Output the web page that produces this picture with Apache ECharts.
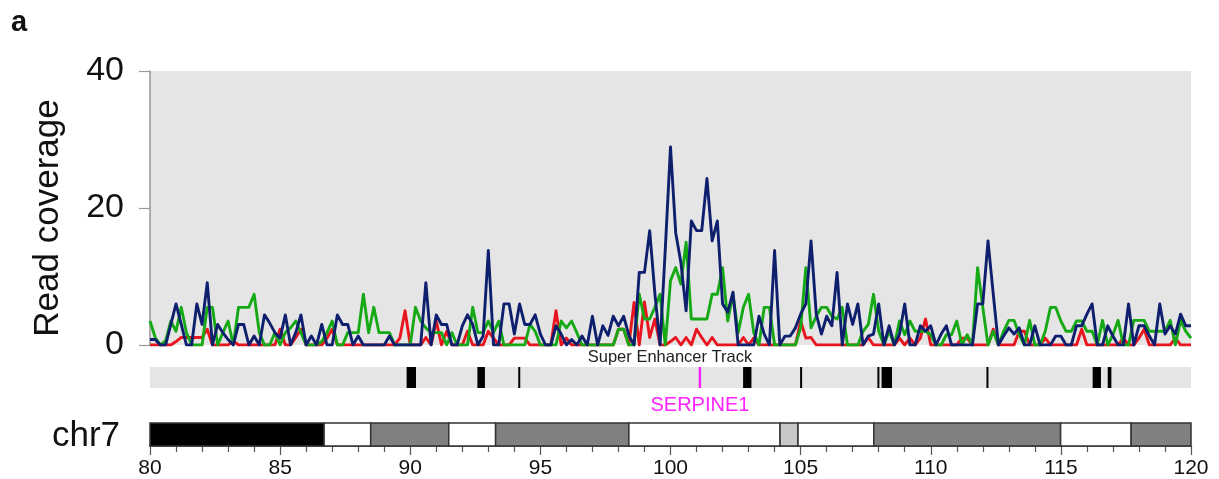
<!DOCTYPE html>
<html><head><meta charset="utf-8">
<script src="https://cdn.jsdelivr.net/npm/echarts@6/dist/echarts.min.js"></script>
<style>html,body{margin:0;padding:0;background:#fff}#c{width:1219px;height:479px}</style>
</head><body><div id="c"></div>
<script>
// ---- data ----
const binStart = 80;      // Mb
const binSize = 0.2;      // Mb per bin
const xTicks = [80, 85, 90, 95, 100, 105, 110, 115, 120];
const yTicks = [0, 20, 40];

const redCov = [
 0,0,0,0,0,0.5,1.1,1.1,1.1,1.1,
 1.1,2.3,0,0,0,0,0.6,0,0,0,
 0,0,0,0,0,2.3,0,0,1.1,2.3,
 0,0,0,0,1,2.3,0,0,0,0,
 0,0,0,0,0,0,0,0,1,5,
 0,0,0,1.1,0,3.5,0,2,0,0,
 0,2,0,0,0,2,1,0,0,0,
 1,1,1,0,0,0,0,0,5,0,
 1,0,0,0,0,0,0,0,0,0,
 2.3,2.3,0,6.2,0,6.3,1.1,3.8,0,0,
 0.5,1.1,0,1.1,0,2.3,1.1,0,1.1,0,
 0,0,0,0,1.1,0,1,0,0,0,
 0,0,0,0,0,3.5,1,1.1,0,0,
 0,0,0,0,0,0,0,0,1.1,0,
 0,0,0,0,1,0,1,0,1,3.8,
 0,0,0,0,0,0,1,1,0,0,
 0,0,2.3,0,0,0,0,2,2,0,
 0,0,1,0,0,0,0,0,0,2.3,
 0,0,0,0,0,0,0,1,0,0,
 1,2.3,0,0,0,0,0,1,0,0,
 0
];
const greenCov = [
 3.5,1.1,0,0.6,3.5,2,5.5,1.8,0,0,
 0,5.5,5.5,0,1.8,3.5,0,5.5,5.5,5.5,
 7.4,1.8,0,0,1.8,0,1.8,2.5,3.5,1.8,
 0,0,0,0.5,1.8,3.5,0,0,1.8,1.8,
 1.8,7.4,1.8,5.5,1.8,1.8,1.8,0,0,0,
 0,5.5,3.5,2.5,1.8,1.8,1.8,0,1.8,0,
 0,0,5.5,1.8,1.8,3.5,1.8,3.5,0,0,
 0,0,0,3,2,0,0,0,0,3.5,
 2.5,3.5,1.8,0,0,0,0,0,0,0,
 2.3,2.3,0,0,7.4,3.8,3.8,5.5,7.4,0,
 9.4,11.3,8.9,15,3.8,3.8,3.8,3.8,7.4,7.4,
 11.3,3.5,7.4,1.8,5.5,7.4,1.8,0,5.5,5.5,
 0,0,0,0,0,2.5,11.3,2.5,4.2,5.5,
 5.5,4.2,3.8,5.5,0,0,0,2,3,7.4,
 2,0,2,0,3.5,1.5,3.5,2,2,2,
 1.5,0,0,1.5,1.5,3.5,0,1.5,0,11.3,
 5.5,0,2,0,2,3.6,3.6,1.5,0,3.6,
 0,0,2,5.5,5.5,3.5,2,2,3.5,3.5,
 2,2,0,3.6,0,1.5,3.6,0,0,3.6,
 3.6,3.6,2,2,2,2,3.6,0,3.6,2,
 1
];
const blueCov = [
 0.8,0.8,0,0,3,6,3,0,0,6,
 3,9.1,0,3,1.8,0.8,0,3,3,0,
 1.3,0,4.4,3.2,1.8,1,4.4,0,1.8,4.4,
 0,1.3,0,3,0,0,4.4,3,3,0,
 1.3,0,0,0,0,0,1.3,0,0,0,
 0,0,0,9.1,0,4.4,3,3,0,0,
 2.8,4.4,3,0,1.3,13.8,0,0,6,6,
 1.6,6,3,3,4.4,1.6,0,0,2.8,1.6,
 0,0.8,0,1.3,0,4.2,0,2.8,1.4,4.2,
 2.8,4.2,1.4,0,10.6,10.6,16.7,7.5,0,14,
 28.9,16.4,12,5,18.1,16.7,16.7,24.3,15.2,18.1,
 6,4.8,7.7,0,0,0,0,4.2,1.6,0,
 13.8,0,1.3,1.3,2.5,4.5,6,15.2,4.5,1.6,
 4.2,2.8,10.6,0,6,3,6,0,1.3,1.6,
 6,0,2.8,0,1.6,6,0,0,2.8,2,
 2.8,0,1.6,2.8,0,0,0,0,0,6,
 6,15.2,7.5,0,1.3,2.5,1.6,2.5,0,0,
 2.8,0,0,0,1.3,1.3,0,0,2.8,2.8,
 4.5,6,0,0,2.8,1.3,0,0,6,0,
 2.8,2.8,1.3,0,6,1.6,2.8,1.6,4.5,2.8,
 2.8
];

// super-enhancer track regions (Mb)
const seStart = [89.86, 92.58, 94.15, 102.79, 104.98, 107.95, 108.11, 112.14, 116.22, 116.80];
const seEnd   = [90.22, 92.87, 94.21, 103.11, 105.04, 108.01, 108.51, 112.20, 116.54, 116.94];
const geneName = ['SERPINE1'];
const genePos = [101.13];

// chromosome 7 ideogram bands (Mb)
const bandStart = [80, 86.69, 88.48, 91.48, 93.28, 98.40, 104.21, 104.90, 107.81, 114.99, 117.70];
const bandEnd   = [86.69, 88.48, 91.48, 93.28, 98.40, 104.21, 104.90, 107.81, 114.99, 117.70, 120];
const bandStain = ['gpos100','gneg','gpos50','gneg','gpos50','gneg','gvar','gneg','gpos50','gneg','gpos50'];

// ---- build ----
const FONT = '"Liberation Sans", Arial, Helvetica, sans-serif';
const positions = blueCov.map((_, i) => +(binStart + i * binSize).toFixed(2));
const toPairs = arr => arr.map((v, i) => [positions[i], v]);
const stainColor = { gpos100: '#000000', gneg: '#ffffff', gpos50: '#808080', gvar: '#c8c8c8' };

const chart = echarts.init(document.getElementById('c'), null, { renderer: 'canvas' });

function lineSeries(name, arr, color) {
  return {
    name, type: 'line', xAxisIndex: 0, yAxisIndex: 0,
    data: toPairs(arr), showSymbol: false, symbol: 'none',
    lineStyle: { color, width: 2.9, join: 'round' }, itemStyle: { color },
    animation: false, clip: true, z: 3
  };
}

const option = {
  animation: false,
  backgroundColor: '#ffffff',
  grid: [
    { left: 150, top: 71, width: 1041, height: 274, show: true, backgroundColor: '#e5e5e5', borderWidth: 0 },
    { left: 150, top: 367, width: 1041, height: 21, show: true, backgroundColor: '#e5e5e5', borderWidth: 0 },
    { left: 150, top: 423, width: 1041, height: 24, show: false }
  ],
  xAxis: [
    { gridIndex: 0, type: 'value', min: 80, max: 120, show: false },
    { gridIndex: 1, type: 'value', min: 80, max: 120, show: false },
    { gridIndex: 2, type: 'value', min: xTicks[0], max: xTicks[xTicks.length - 1], interval: 5,
      axisLine: { show: true, onZero: false, lineStyle: { color: '#333', width: 1.5 } },
      axisTick: { show: true, length: 9, lineStyle: { color: '#555', width: 1.2 } },
      minorTick: { show: true, splitNumber: 5, length: 6, lineStyle: { color: '#555', width: 1.2 } },
      splitLine: { show: false },
      axisLabel: { fontSize: 21, color: '#111', margin: 12, fontFamily: FONT,
        formatter: v => xTicks.includes(v) ? String(v) : '' }
    }
  ],
  yAxis: [
    { gridIndex: 0, type: 'value', min: yTicks[0], max: yTicks[yTicks.length - 1], interval: 20,
      axisLine: { show: true, lineStyle: { color: '#999', width: 1.5 } },
      axisTick: { show: true, length: 11, lineStyle: { color: '#999', width: 1.2 } },
      splitLine: { show: false },
      axisLabel: { fontSize: 34, color: '#111', margin: 26, fontFamily: FONT }
    },
    { gridIndex: 1, type: 'value', min: 0, max: 1, show: false },
    { gridIndex: 2, type: 'value', min: 0, max: 1, show: false }
  ],
  graphic: [
    { type: 'text', left: 11, top: 8, style: { text: 'a', fontSize: 29, fontWeight: 'bold', fill: '#111', fontFamily: FONT } },
    { type: 'text', x: 48, y: 218, rotation: Math.PI / 2,
      style: { text: 'Read coverage', x: 0, y: 0, align: 'center', verticalAlign: 'middle', fontSize: 35, fill: '#111', fontFamily: FONT } },
    { type: 'text', x: 670, y: 357, style: { text: 'Super Enhancer Track', align: 'center', verticalAlign: 'middle', fontSize: 16.5, fill: '#222', fontFamily: FONT } },
    { type: 'text', x: 120, y: 436, style: { text: 'chr7', align: 'right', verticalAlign: 'middle', fontSize: 35, fill: '#111', fontFamily: FONT } }
  ],
  series: [
    lineSeries('red', redCov, '#e8141e'),
    lineSeries('green', greenCov, '#16a916'),
    lineSeries('blue', blueCov, '#0e1f6e'),
    { type: 'custom', xAxisIndex: 1, yAxisIndex: 1, animation: false, z: 3,
      data: seStart.map((s, i) => [s, seEnd[i]]),
      renderItem: (params, api) => {
        const a = api.coord([api.value(0), 1]);
        const b = api.coord([api.value(1), 0]);
        const w = Math.max(b[0] - a[0], 2);
        return { type: 'rect', shape: { x: a[0], y: a[1], width: w, height: b[1] - a[1] }, style: { fill: '#000' } };
      }
    },
    { type: 'custom', xAxisIndex: 1, yAxisIndex: 1, animation: false, z: 4,
      data: genePos.map((p, i) => [p, geneName[i]]),
      renderItem: (params, api) => {
        const a = api.coord([api.value(0), 1]);
        const b = api.coord([api.value(0), 0]);
        const name = geneName[params.dataIndex];
        return { type: 'group', children: [
          { type: 'rect', shape: { x: a[0] - 1.2, y: a[1], width: 2.4, height: b[1] - a[1] }, style: { fill: '#ff22ff' } },
          { type: 'text', style: { text: name, x: a[0], y: b[1] + 17, align: 'center', verticalAlign: 'middle',
              fontSize: 20, fill: '#ff22ff', fontFamily: FONT } }
        ] };
      }
    },
    { type: 'custom', xAxisIndex: 2, yAxisIndex: 2, animation: false, z: 2,
      data: bandStart.map((s, i) => [s, bandEnd[i], i]),
      renderItem: (params, api) => {
        const a = api.coord([api.value(0), 1]);
        const b = api.coord([api.value(1), 0]);
        const stain = bandStain[api.value(2)];
        return { type: 'rect', shape: { x: a[0], y: a[1], width: b[0] - a[0], height: b[1] - a[1] },
          style: { fill: stainColor[stain], stroke: '#333', lineWidth: 1.5 } };
      }
    }
  ]
};
chart.setOption(option);
</script>
</body></html>
